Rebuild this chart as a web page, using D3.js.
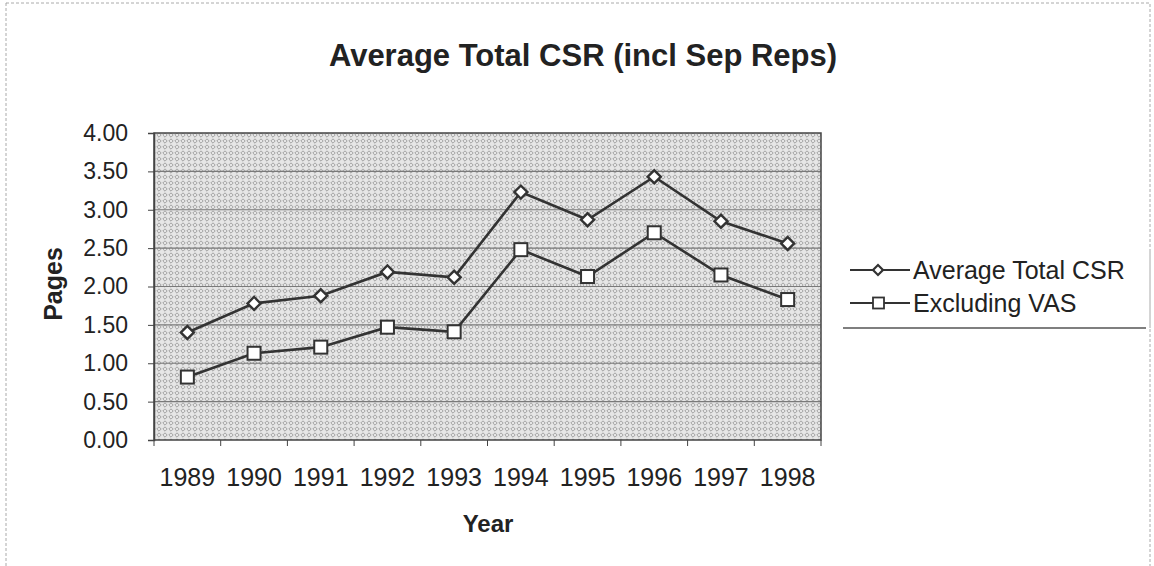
<!DOCTYPE html>
<html><head><meta charset="utf-8">
<script src="https://cdn.jsdelivr.net/npm/d3@7"></script>
<style>body{margin:0;background:#fff}svg{display:block}text{font-family:"Liberation Sans",Arial,sans-serif;fill:#222}</style>
</head><body><svg id="c" width="1154" height="566"></svg>
<script>
const years = ["1989","1990","1991","1992","1993","1994","1995","1996","1997","1998"];
const avgTotal = [1.40,1.78,1.88,2.19,2.12,3.23,2.87,3.43,2.85,2.56];
const exclVAS = [0.82,1.13,1.21,1.47,1.41,2.48,2.13,2.70,2.15,1.83];
const yTicks = [0,0.5,1,1.5,2,2.5,3,3.5,4];
const seriesNames = ["Average Total CSR","Excluding VAS"];

const svg = d3.select("#c");
const L=154,R=821,T=133,B=440;
const x = d3.scaleBand().domain(years).range([L,R]);
const y = d3.scaleLinear().domain([0,4]).range([B,T]);

// outer frame
svg.append("rect").attr("x",6).attr("y",3).attr("width",1144).attr("height",620)
  .attr("fill","none").attr("stroke","#aaa").attr("stroke-dasharray","3,2");

const defs = svg.append("defs");
const pat = defs.append("pattern").attr("id","dots").attr("width",6).attr("height",6).attr("patternUnits","userSpaceOnUse");
pat.append("rect").attr("width",6).attr("height",6).attr("fill","#e6e6e6");
pat.append("path").attr("d","M3,0.8L5.2,3L3,5.2L0.8,3Z").attr("fill","none").attr("stroke","#9a9a9a").attr("stroke-width",0.9);

svg.append("rect").attr("x",L).attr("y",T).attr("width",R-L).attr("height",B-T).attr("fill","url(#dots)");

// gridlines
svg.append("g").selectAll("line").data(yTicks.filter(d=>d>0&&d<4)).join("line")
  .attr("x1",L).attr("x2",R).attr("y1",d=>y(d)).attr("y2",d=>y(d)).attr("stroke","#7a7a7a").attr("stroke-width",1.2);

svg.append("rect").attr("x",L).attr("y",T).attr("width",R-L).attr("height",B-T).attr("fill","none").attr("stroke","#444").attr("stroke-width",1.5);

// y axis
const ya = svg.append("g").attr("transform",`translate(${L},0)`)
  .call(d3.axisLeft(y).tickValues(yTicks).tickFormat(d3.format(".2f")).tickSize(6).tickPadding(20));
ya.select(".domain").attr("stroke","#444").attr("stroke-width",1.5);
ya.selectAll(".tick line").attr("stroke","#444");
ya.selectAll("text").attr("font-size",23).attr("font-family","Liberation Sans, Arial").attr("fill","#333");

// x axis
const xa = svg.append("g").attr("transform",`translate(0,${B})`)
  .call(d3.axisBottom(x).tickSize(0).tickPadding(28));
xa.select(".domain").remove();
xa.selectAll("text").attr("font-size",25).attr("font-family","Liberation Sans, Arial").attr("fill","#333");
svg.append("g").selectAll("line").data(years.concat(["end"])).join("line")
  .attr("x1",(d,i)=>L+i*x.step()).attr("x2",(d,i)=>L+i*x.step()).attr("y1",B).attr("y2",B+6).attr("stroke","#444");

// titles
svg.append("text").attr("x",583).attr("y",66).attr("text-anchor","middle").attr("font-size",31).attr("font-weight","bold").attr("fill","#333").text("Average Total CSR (incl Sep Reps)");
svg.append("text").attr("x",488).attr("y",532).attr("text-anchor","middle").attr("font-size",24).attr("font-weight","bold").attr("fill","#333").text("Year");
svg.append("text").attr("transform","translate(62,284) rotate(-90)").attr("text-anchor","middle").attr("font-size",25).attr("font-weight","bold").attr("fill","#333").text("Pages");

// lines
const line = d3.line().x((d,i)=>x(years[i])+x.bandwidth()/2).y(d=>y(d));
const lc="#333";
[avgTotal,exclVAS].forEach(s=>{
  svg.append("path").datum(s).attr("d",line).attr("fill","none").attr("stroke",lc).attr("stroke-width",2.6);
});
svg.append("g").selectAll("path").data(avgTotal).join("path")
  .attr("d",d3.symbol().type(d3.symbolSquare).size(85)).attr("transform",(d,i)=>`translate(${x(years[i])+x.bandwidth()/2},${y(d)}) rotate(45)`)
  .attr("fill","#fff").attr("stroke",lc).attr("stroke-width",2.4);
svg.append("g").selectAll("rect").data(exclVAS).join("rect")
  .attr("x",(d,i)=>x(years[i])+x.bandwidth()/2-6.5).attr("y",d=>y(d)-6.5).attr("width",13).attr("height",13)
  .attr("fill","#fff").attr("stroke",lc).attr("stroke-width",2);

// legend
const lg = svg.append("g");
lg.append("line").attr("x1",843).attr("x2",1146).attr("y1",328).attr("y2",328).attr("stroke","#555").attr("stroke-width",1.5);
lg.append("line").attr("x1",1150).attr("x2",1150).attr("y1",252).attr("y2",328).attr("stroke","#aaa").attr("stroke-dasharray","2,3");
const rows=[270,303];
seriesNames.forEach((n,i)=>{
  const yy=rows[i];
  lg.append("line").attr("x1",850).attr("x2",910).attr("y1",yy).attr("y2",yy).attr("stroke",lc).attr("stroke-width",2.2);
  if(i===0){
    lg.append("path").attr("d",d3.symbol().type(d3.symbolSquare).size(50)).attr("transform",`translate(878,${yy}) rotate(45)`).attr("fill","#fff").attr("stroke",lc).attr("stroke-width",2.2);
  } else {
    lg.append("rect").attr("x",873).attr("y",yy-5.5).attr("width",11).attr("height",11).attr("fill","#fff").attr("stroke",lc).attr("stroke-width",1.8);
  }
  lg.append("text").attr("x",913).attr("y",yy+9).attr("font-size",25).attr("fill","#333").text(n);
});
</script></body></html>
